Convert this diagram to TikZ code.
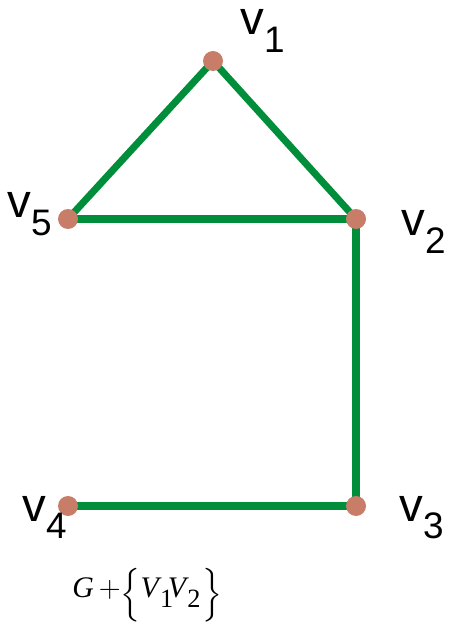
\documentclass[tikz,border=0pt]{standalone}
\usepackage{fontspec}
\setmainfont{Liberation Sans}
\newfontfamily\capfont{Liberation Serif}
\usepackage{amsmath,amssymb}
\usetikzlibrary{backgrounds}

\definecolor{edgegreen}{RGB}{0,142,58}
\definecolor{dotbrown}{RGB}{200,125,105}

\newcommand{\vlab}[1]{\fontsize{27}{27}\selectfont\smash{v\raisebox{-10pt}{\fontsize{21}{21}\selectfont #1}}}
\newcommand{\capv}[1]{\textit{V}\kern-1pt\raisebox{-6pt}{\fontsize{15}{15}\selectfont #1}}

\begin{document}
\begin{tikzpicture}[x=0.02cm,y=-0.02cm,
  vtx/.style={circle,fill=dotbrown,inner sep=0pt,minimum size=0.4cm},
  edge/.style={edgegreen,line width=4pt},
  vname/.style={anchor=base west,inner sep=0pt}]
  \useasboundingbox (0,0) rectangle (450,634);
  % vertices
  \node[vtx] (v1) at (213,61) {};
  \node[vtx] (v2) at (356,219) {};
  \node[vtx] (v3) at (356,506) {};
  \node[vtx] (v4) at (68,506) {};
  \node[vtx] (v5) at (68,219) {};
  % edges
  \begin{scope}[on background layer]
  \draw[edge] (v1.center) -- (v2.center);
  \draw[edge] (v1.center) -- (v5.center);
  \draw[edge] (v5.center) -- (v2.center);
  \draw[edge] (v2.center) -- (v3.center);
  \draw[edge] (v3.center) -- (v4.center);
  \end{scope}
  % labels
  \node[vname] (l1) at (240,35) {\vlab{1}};
  \node[vname] (l2) at (401,236) {\vlab{2}};
  \node[vname] (l3) at (399,521) {\vlab{3}};
  \node[vname] (l4) at (22,521) {\vlab{4}};
  \node[vname] (l5) at (7,218) {\vlab{5}};
  % caption
  \node[vname] (cap) at (72,597) {\capfont\fontsize{17}{19}\selectfont
    \textit{G}\,$+$\raisebox{-3pt}{$\Bigl\{$}\capv{1}\kern-3pt\capv{2}\kern1pt\raisebox{-3pt}{$\Bigr\}$}};
\end{tikzpicture}
\end{document}
